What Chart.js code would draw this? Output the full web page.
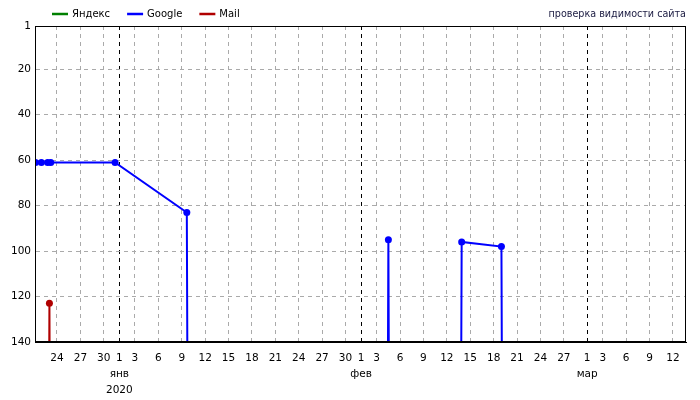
<!DOCTYPE html>
<html>

<head>
    <meta charset="utf-8">
    <style>
        html, body { margin: 0; padding: 0; background: #fff; }
    </style>
</head>

<body>
    <div>
        <canvas id="chartId" width="700" height="400"></canvas>
    </div>
    <script src="https://cdn.jsdelivr.net/npm/chart.js"></script>
    <script>
        // день 0 = 1 янв 2020, позиции в выдаче
        const NOT_FOUND = 1000; // вне топа

        const seriesNames = ['Яндекс', 'Google', 'Mail'];
        const seriesColors = ['#008000', '#0000ff', '#b00000'];

        const yandexDays = [];
        const yandexRanks = [];

        const googleDays = [-10.75, -10, -9.2, -8.8, -0.55, 8.65, 9.65, 33.5, 34.5, 35.5, 42.9, 43.9, 49.0, 50.0];
        const googleRanks = [61, 61, 61, 61, 61, 83, NOT_FOUND, NOT_FOUND, 95, NOT_FOUND, NOT_FOUND, 96, 98, NOT_FOUND];

        const mailDays = [-9.97, -8.97, -7.97];
        const mailRanks = [NOT_FOUND, 123, NOT_FOUND];

        // подписи оси X
        const tickDays = [-8, -5, -2, 0, 2, 5, 8, 11, 14, 17, 20, 23, 26, 29,
            31, 33, 36, 39, 42, 45, 48, 51, 54, 57, 60, 62, 65, 68, 71];
        const tickLabels = ['24', '27', '30', '1', '3', '6', '9', '12', '15', '18', '21', '24', '27', '30',
            '1', '3', '6', '9', '12', '15', '18', '21', '24', '27', '1', '3', '6', '9', '12'];
        const monthStarts = [0, 31, 60];
        const monthNames = ['янв', 'фев', 'мар'];
        const yearLabel = '2020';

        const yTicks = [1, 20, 40, 60, 80, 100, 120, 140];
        const titleText = 'проверка видимости сайта';

        const FONT = 'DejaVu Sans';
        const chartCanvas = document.getElementById('chartId');

        function toPoints(days, ranks) {
            return days.map((d, i) => ({ x: d, y: ranks[i] }));
        }

        const allDays = [yandexDays, googleDays, mailDays];
        const allRanks = [yandexRanks, googleRanks, mailRanks];

        // рамка, легенда и заголовок
        const decorPlugin = {
            id: 'decor',
            afterDraw(chart) {
                const ctx = chart.ctx;
                const a = chart.chartArea;
                ctx.save();
                ctx.strokeStyle = '#000';
                ctx.lineWidth = 1;
                ctx.strokeRect(Math.round(a.left) + 0.5, Math.round(a.top) + 0.5,
                    Math.round(a.right - a.left) - 1, Math.round(a.bottom - a.top) - 1);

                ctx.font = '10px "' + FONT + '"';
                ctx.textBaseline = 'middle';
                ctx.fillStyle = '#000';
                let x = 52;
                const y = 14;
                chart.data.datasets.forEach((ds) => {
                    ctx.strokeStyle = ds.borderColor;
                    ctx.lineWidth = 2.5;
                    ctx.beginPath();
                    ctx.moveTo(x, y);
                    ctx.lineTo(x + 16, y);
                    ctx.stroke();
                    ctx.textAlign = 'left';
                    ctx.fillText(ds.label, x + 20, y);
                    x += 20 + ctx.measureText(ds.label).width + 17;
                });
                ctx.font = '9.6px "' + FONT + '"';
                ctx.fillStyle = '#1a1a40';
                ctx.textAlign = 'right';
                ctx.fillText(titleText, a.right, y);
                ctx.restore();
            }
        };

        new Chart(chartCanvas, {
            type: 'line',
            data: {
                datasets: seriesNames.map((name, i) => ({
                    label: name,
                    data: toPoints(allDays[i], allRanks[i]),
                    borderColor: seriesColors[i],
                    backgroundColor: seriesColors[i],
                    pointBackgroundColor: seriesColors[i],
                    pointBorderWidth: 0,
                    borderWidth: 2,
                    pointRadius: 3.5,
                    tension: 0,
                    fill: false
                }))
            },
            options: {
                responsive: false,
                animation: false,
                devicePixelRatio: 1,
                layout: { padding: { top: 26, right: 14, left: 0, bottom: 0 } },
                plugins: {
                    legend: { display: false },
                    tooltip: { enabled: false }
                },
                scales: {
                    x: {
                        type: 'linear',
                        min: -10.82,
                        max: 72.67,
                        afterBuildTicks: s => { s.ticks = tickDays.map(v => ({ value: v })); },
                        afterFit: s => { s.height = 58; },
                        ticks: {
                            autoSkip: false,
                            maxRotation: 0,
                            minRotation: 0,
                            padding: 8,
                            color: '#000',
                            font: { family: FONT, size: 10.5, lineHeight: '16px' },
                            callback: function (value) {
                                const i = tickDays.indexOf(value);
                                const m = monthStarts.indexOf(value);
                                if (m === 0) return [tickLabels[i], monthNames[m], yearLabel];
                                if (m > 0) return [tickLabels[i], monthNames[m]];
                                return tickLabels[i];
                            }
                        },
                        grid: {
                            drawTicks: false,
                            lineWidth: 1,
                            color: ctx => (ctx.tick && monthStarts.includes(ctx.tick.value)) ? '#000' : '#aaa'
                        },
                        border: { color: '#000', width: 1, dash: [4, 4] }
                    },
                    y: {
                        reverse: true,
                        min: 1,
                        max: 140,
                        afterBuildTicks: s => { s.ticks = yTicks.map(v => ({ value: v })); },
                        afterFit: s => { s.width = 35; },
                        ticks: {
                            padding: 4,
                            color: '#000',
                            font: { family: FONT, size: 10.5 }
                        },
                        grid: {
                            drawTicks: false,
                            color: '#aaa'
                        },
                        border: { color: '#000', width: 1, dash: [4, 4] }
                    }
                }
            },
            plugins: [decorPlugin]
        });
    </script>
</body>

</html>
